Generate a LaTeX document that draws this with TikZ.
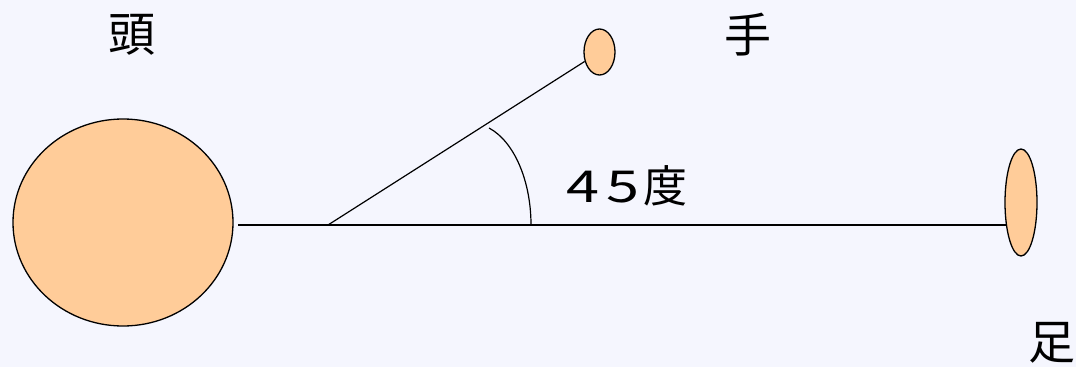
\documentclass[tikz,border=0pt]{standalone}
\usepackage{fontspec}
\usepackage{graphicx}
\newfontfamily\cjk{Noto Sans CJK JP}
\usetikzlibrary{shapes.geometric}
\definecolor{bgcol}{HTML}{F5F6FE}
\definecolor{peach}{HTML}{FFCC99}
\tikzset{
  body/.style={ellipse, draw=black, fill=peach, line width=1.3pt, inner sep=0pt},
  stick/.style={draw=black, line width=1.2pt},
  lbl/.style={font=\cjk\fontsize{47}{47}\selectfont, inner sep=0pt, text=black}
}
\begin{document}
\begin{tikzpicture}[x=1pt,y=-1pt]
\fill[bgcol] (0,0) rectangle (1076,367);
\useasboundingbox (0,0) rectangle (1076,367);
\node[body, minimum width=220pt, minimum height=207pt] (head) at (123,222.5) {};
\node[body, minimum width=31pt, minimum height=46pt] (hand) at (599.5,52) {};
\node[body, minimum width=32pt, minimum height=107pt] (foot) at (1021,202.5) {};
\coordinate (neck) at (238,225);
\coordinate (vertex) at (328,225);
\coordinate (ankle) at (1006,225);
\coordinate (arcstart) at (531,225);
\draw[stick] (neck) -- (ankle);
\draw[stick] (vertex) -- (hand);
\draw[stick] (arcstart) arc[start angle=0, end angle=-72.5, x radius=60, y radius=101.7];
\node[lbl] (thead) at (132,35) {頭};
\node[lbl] (thand) at (748,35) {手};
\node[lbl] (tfoot) at (1052,343) {足};
\node[font=\cjk\fontsize{44}{44}\selectfont, inner sep=0pt, anchor=base west] (angle) at (563,202)
  {\makebox[40pt]{\scalebox{1.35}[1]{4}}\makebox[40pt]{\scalebox{1.35}[1]{5}}度};
\end{tikzpicture}
\end{document}
